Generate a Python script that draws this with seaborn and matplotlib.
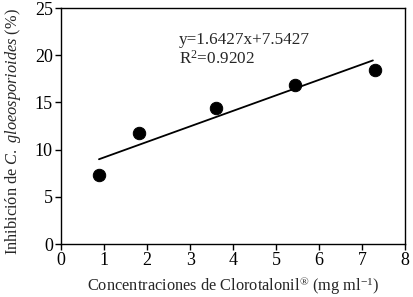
import matplotlib
matplotlib.use('Agg')
import matplotlib.pyplot as plt
import numpy as np
import pandas as pd
import seaborn as sns

# data
conc = [0.88, 1.82, 3.60, 5.43, 7.30]
inhib = [7.28, 11.73, 14.44, 16.90, 18.40]
slope = 1.6427
intercept = 7.5427
r2 = 0.9202

df = pd.DataFrame({'conc': conc, 'inhib': inhib})
line_x = np.array([min(conc), 7.25])
fit = pd.DataFrame({'x': line_x, 'y': slope * line_x + intercept})

sns.set_style('ticks')
plt.rcParams['font.family'] = ['Liberation Serif', 'DejaVu Serif']
plt.rcParams['mathtext.fontset'] = 'custom'
plt.rcParams['mathtext.rm'] = 'Liberation Serif'
plt.rcParams['mathtext.it'] = 'Liberation Serif:italic'

fig = plt.figure(figsize=(4.13, 2.97), dpi=100)
ax = fig.add_axes([0.148, 0.178, 0.833, 0.795])

sns.lineplot(data=fit, x='x', y='y', color='black', linewidth=1.3, ax=ax)
sns.scatterplot(data=df, x='conc', y='inhib', color='black', s=80,
                edgecolor='black', ax=ax, zorder=3)

ax.text(2.73, 21.2, 'y=%.4fx+%.4f' % (slope, intercept), fontsize=12.3, va='baseline')
ax.text(2.73, 19.1, 'R$^2$=%.4f' % r2, fontsize=12.3, va='baseline')

ax.set_xlim(0, 8)
ax.set_ylim(0, 25)
ax.set_xticks(range(0, 9))
ax.set_yticks(range(0, 26, 5))
ax.tick_params(direction='out', length=4, width=1, labelsize=13, colors='black', pad=2)
for side in ['top', 'right', 'left', 'bottom']:
    ax.spines[side].set_visible(True)
    ax.spines[side].set_color('black')
    ax.spines[side].set_linewidth(1)

ax.set_xlabel('Concentraciones de Clorotalonil$^{\\circledR}$ (mg ml$^{-1}$)', fontsize=11.8, labelpad=4)
ax.set_ylabel('Inhibición de $\\mathit{C.\\ gloeosporioides}$ (%)', fontsize=11.8)
ax.yaxis.set_label_coords(-0.11, 0.475)

fig.savefig('out.png', dpi=100)
